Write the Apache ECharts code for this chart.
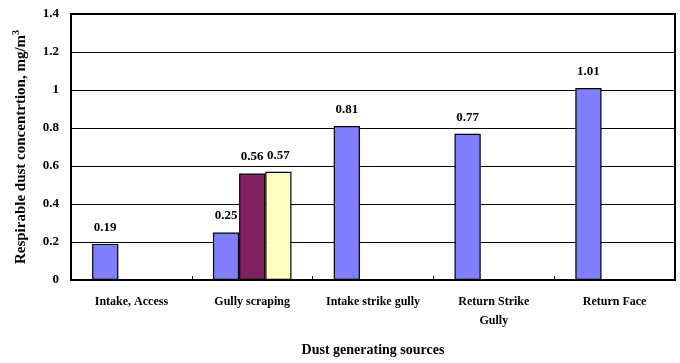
<!DOCTYPE html>
<html>
<head>
<meta charset="utf-8">
<script src="https://cdn.jsdelivr.net/npm/echarts@6/dist/echarts.min.js"></script>
<style>
  html, body { margin: 0; padding: 0; background: #fff; }
  #chart { width: 680px; height: 363px; }
</style>
</head>
<body>
<div id="chart"></div>
<script>
// Dust sources along the x axis
const categories = ['Intake, Access', 'Gully scraping', 'Intake strike gully', 'Return Strike\nGully', 'Return Face'];
// Concentration readings, mg/m3 (three measurement series)
const seriesA = [0.19, 0.25, 0.81, 0.77, 1.01];
const seriesB = [null, 0.56, null, null, null];
const seriesC = [null, 0.57, null, null, null];
const yTicks = { min: 0, max: 1.4, step: 0.2 };

const FONT = '"Liberation Serif", "Times New Roman", serif';
const chart = echarts.init(document.getElementById('chart'));

function barSeries(data, color) {
  return {
    type: 'bar',
    data: data,
    barGap: '0%',
    barCategoryGap: '35%',
    itemStyle: { color: color, borderColor: '#000', borderWidth: 1.2 },
    label: {
      show: true,
      position: 'top',
      distance: 10,
      color: '#000',
      fontFamily: FONT,
      fontWeight: 'bold',
      fontSize: 13,
      formatter: p => p.value == null ? '' : p.value.toFixed(2)
    }
  };
}

chart.setOption({
  animation: false,
  backgroundColor: '#fff',
  grid: {
    left: 71, right: 5, top: 14, bottom: 83,
    containLabel: false, outerBoundsMode: 'none',
    show: true, borderColor: '#000', borderWidth: 2, backgroundColor: 'transparent'
  },
  xAxis: {
    type: 'category',
    data: categories,
    name: 'Dust generating sources',
    nameLocation: 'middle',
    nameGap: 63,
    nameTextStyle: { fontFamily: FONT, fontWeight: 'bold', fontSize: 14, color: '#000' },
    axisLine: { lineStyle: { color: '#000', width: 2 } },
    axisTick: { show: true, inside: true, length: 4, lineStyle: { color: '#000', width: 1 } },
    axisLabel: { fontFamily: FONT, fontWeight: 'bold', fontSize: 12, color: '#000', margin: 12, lineHeight: 19, interval: 0 }
  },
  yAxis: {
    type: 'value',
    min: yTicks.min,
    max: yTicks.max,
    interval: yTicks.step,
    name: '{a|Respirable dust concentrtion, mg/m}{s|3}',
    nameLocation: 'middle',
    nameGap: 40,
    nameTextStyle: {
      rich: {
        a: { fontFamily: FONT, fontWeight: 'bold', fontSize: 15, color: '#000' },
        s: { fontFamily: FONT, fontWeight: 'bold', fontSize: 10, color: '#000', verticalAlign: 'top', padding: [0, 0, 10, 0] }
      }
    },
    axisLine: { show: true, lineStyle: { color: '#000', width: 2 } },
    axisTick: { show: false },
    splitLine: { lineStyle: { color: '#000', width: 1 } },
    axisLabel: { fontFamily: FONT, fontWeight: 'bold', fontSize: 13, color: '#000', margin: 12, formatter: v => String(+v.toFixed(1)) }
  },
  series: [
    barSeries(seriesA, '#8080FF'),
    barSeries(seriesB, '#802060'),
    barSeries(seriesC, '#FFFFC0')
  ]
});
</script>
</body>
</html>
